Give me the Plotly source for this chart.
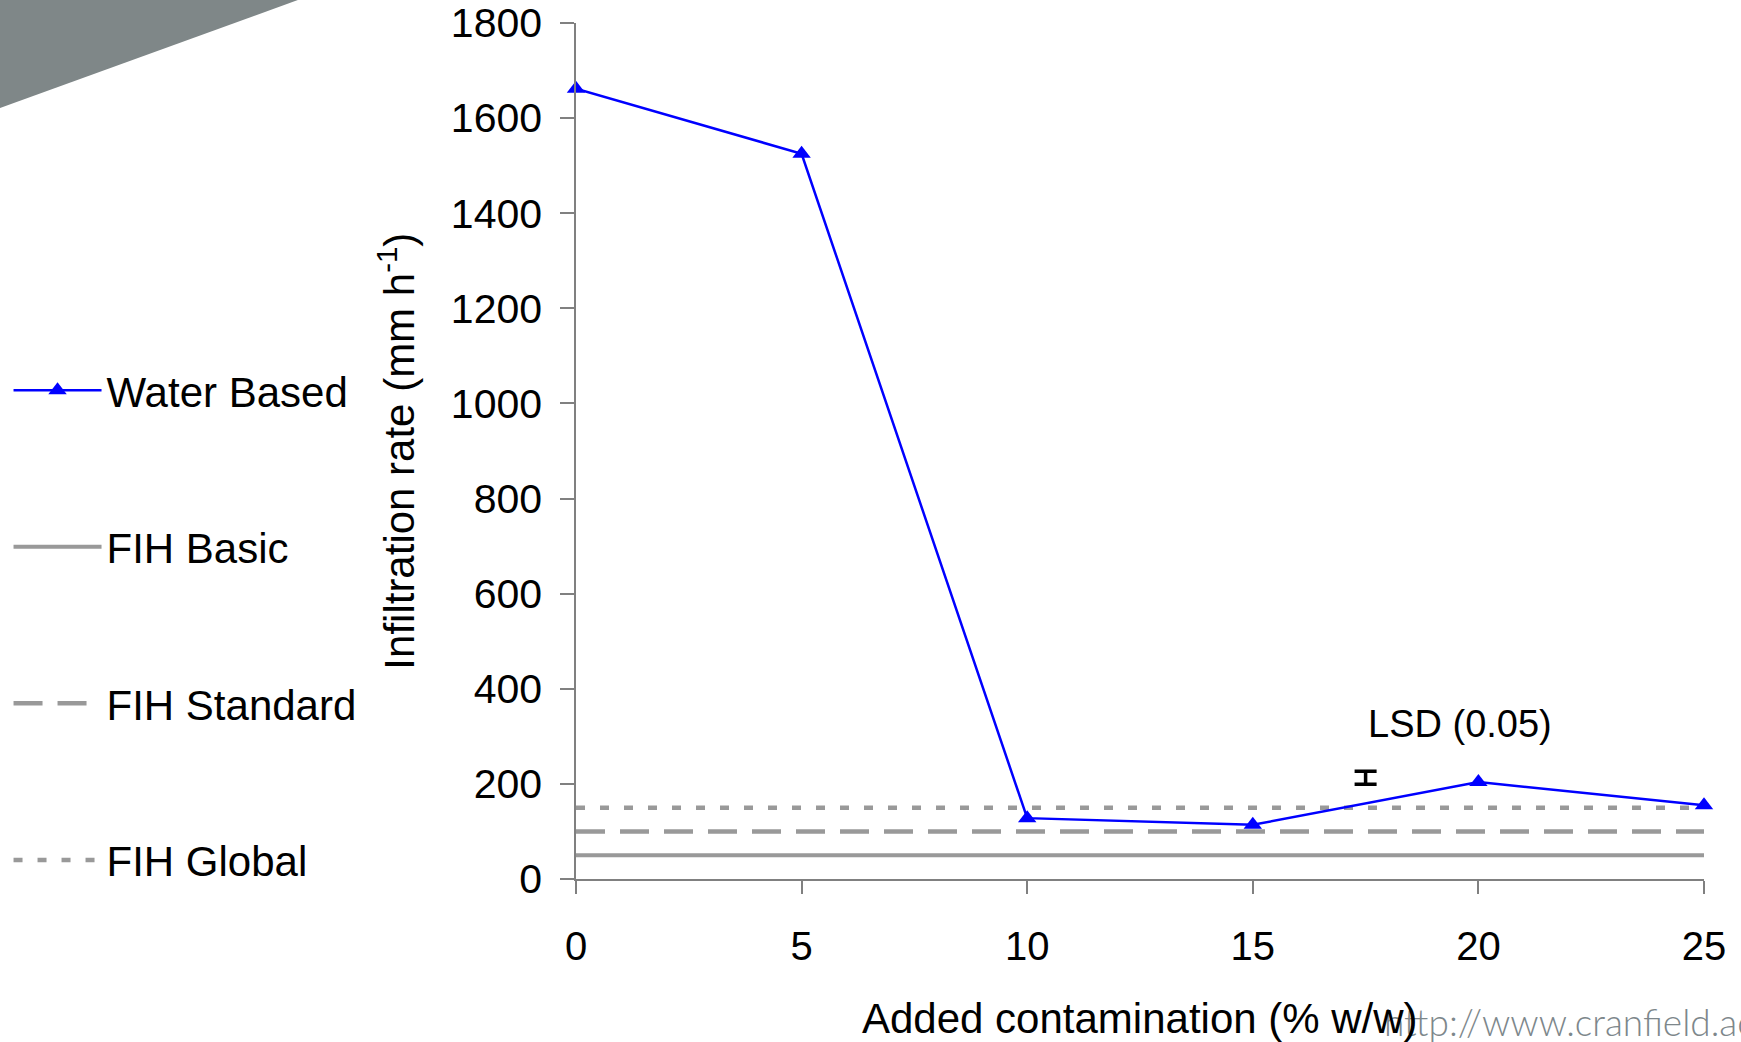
import plotly.graph_objects as go

# Infiltration rate against added contamination
contamination = [0, 5, 10, 15, 20, 25]
water_based = [1662, 1525, 128, 114, 204, 155]

# FIH reference levels (mm h-1)
fih_names = ["FIH Basic", "FIH Standard", "FIH Global"]
fih_levels = [50, 100, 150]
fih_dash = ["solid", "29px,15px", "9px,15px"]
fih_width = [4, 4.5, 4.5]

# Least significant difference bar
lsd_x = [17.5]
lsd_centre = [213]
lsd_value = 27

x_ticks = [0, 5, 10, 15, 20, 25]
y_ticks = [0, 200, 400, 600, 800, 1000, 1200, 1400, 1600, 1800]

FONT = "Liberation Sans, Arial, sans-serif"
GREY = "#999999"

fig = go.Figure()

for i, (name, level, dash, w) in enumerate(zip(fih_names, fih_levels, fih_dash, fih_width)):
    fig.add_trace(go.Scatter(
        x=[contamination[0], contamination[-1]], y=[level, level],
        mode="lines", name=name, legendgroup=name, legendrank=2 + i,
        line=dict(color=GREY, width=w, dash=dash),
        cliponaxis=False, hoverinfo="skip",
    ))

fig.add_trace(go.Scatter(
    x=contamination, y=water_based, mode="lines+markers",
    name="Water Based", legendgroup="Water Based", legendrank=1,
    line=dict(color="#0000FF", width=2.5),
    marker=dict(symbol="triangle-up", size=16, color="#0000FF"),
    cliponaxis=False,
))

fig.add_trace(go.Scatter(
    x=lsd_x, y=lsd_centre, mode="markers", showlegend=False,
    marker=dict(size=1, opacity=0),
    error_y=dict(type="data", array=[lsd_value / 2], color="black",
                 thickness=3.5, width=11),
    hoverinfo="skip",
))

axis_common = dict(
    showgrid=False, zeroline=False, showline=True, automargin=False,
    linecolor="#808080", linewidth=1.5,
    ticks="outside", tickcolor="#808080", tickwidth=1.5,
)

fig.update_xaxes(range=[0, 25], tickvals=x_ticks, ticklen=13,
                 ticklabelstandoff=18,
                 tickfont=dict(family=FONT, size=40, color="black"),
                 **axis_common)
fig.update_yaxes(range=[0, 1800], tickvals=y_ticks, ticklen=14,
                 ticklabelstandoff=10,
                 tickfont=dict(family=FONT, size=41, color="black"),
                 **axis_common)

fig.update_layout(
    width=1741, height=1042,
    margin=dict(l=576, r=37, t=23, b=163, autoexpand=False),
    paper_bgcolor="white", plot_bgcolor="white",
    font=dict(family=FONT, color="black"),
    showlegend=True,
    legend=dict(
        xref="container", yref="container", x=0.0049, y=0.658,
        xanchor="left", yanchor="top", maxheight=1.0,
        font=dict(family=FONT, size=42, color="black"),
        itemwidth=88, tracegroupgap=99, traceorder="grouped",
        bgcolor="rgba(0,0,0,0)",
    ),
    shapes=[dict(
        type="path", xref="paper", yref="paper", layer="below",
        path="M -0.52,1.04 L -0.2465,1.04 L -0.2465,1.0269 L -0.5106,0.9007 L -0.52,0.9007 Z",
        fillcolor="#7f8788", line=dict(width=0),
    )],
    annotations=[
        dict(text="http://www.cranfield.ac", xref="paper", yref="paper",
             x=0.7145, y=-0.166, xanchor="left", yanchor="middle",
             showarrow=False,
             font=dict(family="Lato", size=37, color="#7d878b", weight=300)),
        dict(text="Added contamination (% w/w)", xref="paper", yref="paper",
             x=0.4996, y=-0.163, xanchor="center", yanchor="middle",
             showarrow=False, font=dict(family=FONT, size=42, color="black")),
        dict(text="Infiltration rate (mm h<sup>-1</sup>)", xref="paper", yref="paper",
             x=-0.159, y=0.5, xanchor="center", yanchor="middle", textangle=-90,
             showarrow=False, font=dict(family=FONT, size=42, color="black")),
        dict(text="LSD (0.05)", xref="x", yref="y", x=17.5, y=325,
             xanchor="left", yanchor="middle", showarrow=False,
             font=dict(family=FONT, size=38, color="black")),
    ],
)

fig.write_html("out.html")
